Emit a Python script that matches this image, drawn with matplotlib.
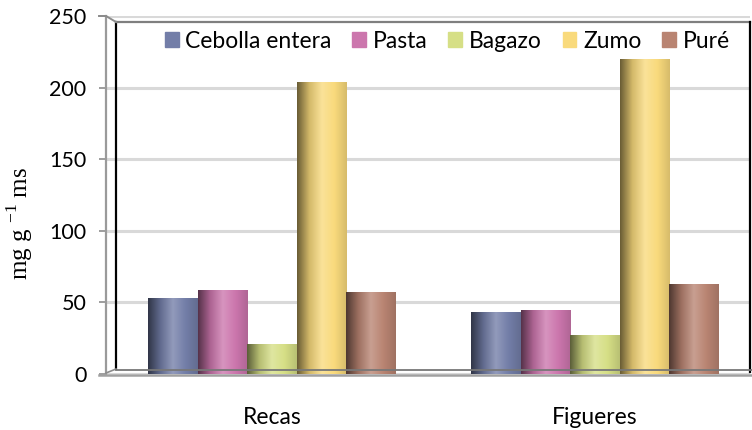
import numpy as np
import matplotlib
matplotlib.use("Agg")
from matplotlib import pyplot as plt
from matplotlib.colors import LinearSegmentedColormap, to_rgb
from matplotlib.lines import Line2D

# Contenido por muestra y localidad
localidades = ["Recas", "Figueres"]
muestras = ["Cebolla entera", "Pasta", "Bagazo", "Zumo", "Puré"]
cebolla_entera = [53, 43]
pasta = [59, 45]
bagazo = [21, 27]
zumo = [204, 220]
pure = [57, 63]
colores = ["#737ea8", "#cc76ad", "#d6df86", "#f9da7c", "#b98472"]

plt.rcParams["font.family"] = ["Lato", "DejaVu Sans"]

W, H = 752, 430
fig = plt.figure(figsize=(W / 100, H / 100), dpi=100)

# axes placed in pixel units
x0, x1, y0, y1 = 106, 750, 374, 16
ax = fig.add_axes([x0 / W, 1 - y0 / H, (x1 - x0) / W, (y0 - y1) / H])


def cylinder_cmap(color):
    c = np.array(to_rgb(color))
    dark = c * 0.42
    light = c + (1 - c) * 0.22
    return LinearSegmentedColormap.from_list(
        "cyl", [dark, c * 0.85, light, c, c * 0.86])


valores = [cebolla_entera, pasta, bagazo, zumo, pure]
w = 0.153
x = np.arange(len(localidades))
grad = np.linspace(0, 1, 256).reshape(1, -1)
handles = []
for k, (nombre, vals, col) in enumerate(zip(muestras, valores, colores)):
    bars = ax.bar(x + (k - 2) * w, vals, w, color=col, edgecolor="none",
                  zorder=3, label=nombre)
    for b in bars:
        b.set_alpha(0)
        im = ax.imshow(grad, aspect="auto", cmap=cylinder_cmap(col),
                       extent=[b.get_x(), b.get_x() + b.get_width(), 0, b.get_height()],
                       zorder=3)
        im.set_clip_path(b)
    handles.append(plt.Rectangle((0, 0), 1, 1, color=col))

ax.set_xlim((x0 - 272) / 323, (x1 - 272) / 323)
ax.set_ylim(0, 250)

ax.set_yticks([0, 50, 100, 150, 200, 250])
ax.yaxis.grid(True, color="#d9d9d9", linewidth=2.2, zorder=0)
ax.set_axisbelow(True)
ax.tick_params(axis="y", labelsize=15.5, length=5, color="#8c8c8c", width=1.2, pad=9)
ax.set_xticks(x)
ax.set_xticklabels(localidades)
ax.tick_params(axis="x", labelsize=16.5, length=0, pad=24)

for s in ["top", "right", "bottom"]:
    ax.spines[s].set_visible(False)
ax.spines["left"].set_color("#9a9a9a")
ax.spines["left"].set_linewidth(1.6)

ax.set_ylabel("mg g $^{\\mathregular{-1}}$ ms", family=["Liberation Serif"],
              fontsize=18)
ax.yaxis.set_label_coords(-0.11, 0.42)

# back wall and floor edges
def fline(xs, ys, **kw):
    fig.add_artist(Line2D([v / W for v in xs], [1 - v / H for v in ys], **kw))

fline([116, 116], [22, 369], color="black", lw=1.6)
fline([116, 750], [22, 22], color="#7f7f7f", lw=1.6)
fline([750, 750], [22, 372], color="black", lw=1.6)
fline([99, 106, 116], [16, 16, 22], color="#8c8c8c", lw=1.4)
fline([106, 116], [373, 369], color="#8c8c8c", lw=1.2)
fline([116, 752], [370, 370], color="#777777", lw=1.3)
fline([99, 752], [374.5, 374.5], color="#a0a0a0", lw=1.8)

ax.legend(handles, muestras, loc="center", bbox_to_anchor=(0.53, 0.93),
          ncol=5, frameon=False, fontsize=16.5, handlelength=0.6,
          handleheight=0.6, handletextpad=0.3, columnspacing=0.9)

fig.savefig("out.png", dpi=100)
